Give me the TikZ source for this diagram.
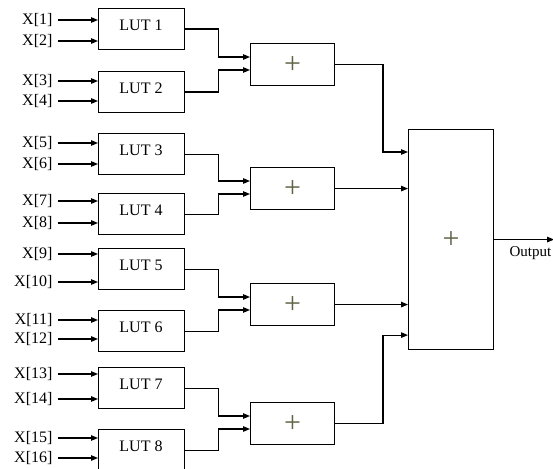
\documentclass[tikz,border=0pt]{standalone}
\usepackage{fontspec}
\setmainfont{Liberation Serif}
\usetikzlibrary{arrows.meta,calc}
\definecolor{plusgray}{RGB}{95,100,70}
\begin{document}
\begin{tikzpicture}[x=1pt,y=-1pt,line width=1.1pt,>={Triangle[length=7pt,width=5.5pt]},
  box/.style={draw,rectangle,inner sep=0pt,anchor=north west},
  txt/.style={font=\fontsize{16}{18}\selectfont},
  plus/.style={font=\fontsize{30}{30}\selectfont,text=plusgray}]
\useasboundingbox (0,0) rectangle (553,468);
% look-up tables
\foreach \k/\t in {1/8,2/71,3/133,4/193,5/248,6/310,7/367,8/429} {
  \node[box,minimum width=86pt,minimum height=41pt] (lut\k) at (98,\t) {};
  \node[txt] (lutname\k) at (141,\t+17) {LUT \k};}
% inputs
\foreach \i/\y/\k in {1/20/1,2/41/1,3/81/2,4/101/2,5/143/3,6/164/3,7/201/4,8/223/4,
  9/254/5,10/282/5,11/320/6,12/339/6,13/374/7,14/399/7,15/438/8,16/458/8} {
  \node[txt,anchor=east,inner xsep=5pt,inner ysep=0pt] (x\i) at (58,\y) {X[\i]};
  \draw[->] (x\i.east) -- (x\i.east -| lut\k.west);}
% first adders
\foreach \j/\t in {1/43,2/167,3/283,4/402} {
  \node[box,minimum width=84pt,minimum height=42pt] (add\j) at (250,\t) {};
  \node[plus] (addsign\j) at (add\j.center) {+};}
\foreach \j/\a/\b in {1/1/2,2/3/4,3/5/6,4/7/8} {
  \draw[->] (lut\a.east) -- ++(33,0) |- ($(add\j.north west)+(0,14)$);
  \draw[->] (lut\b.east) -- ++(33,0) |- ($(add\j.north west)+(0,27)$);}
% final adder
\node[box,minimum width=85pt,minimum height=220pt] (addall) at (408,129) {};
\node[plus] (addsignall) at (addall.center) {+};
\draw[->] (add1.east) -| ($(addall.north west)+(-25,23)$) -- ($(addall.north west)+(0,23)$);
\draw[->] (add2.east) -- (add2.east -| addall.west);
\draw[->] (add3.east) -- (add3.east -| addall.west);
\draw[->] (add4.east) -| ($(addall.south west)+(-25,-15)$) -- ($(addall.south west)+(0,-15)$);
\draw[->] (addall.east) -- ++(60,0) coordinate (out);
\node[anchor=north west,inner sep=0pt,font=\fontsize{15}{17}\selectfont] (outlabel) at (509,246) {Output};
\end{tikzpicture}
\end{document}
